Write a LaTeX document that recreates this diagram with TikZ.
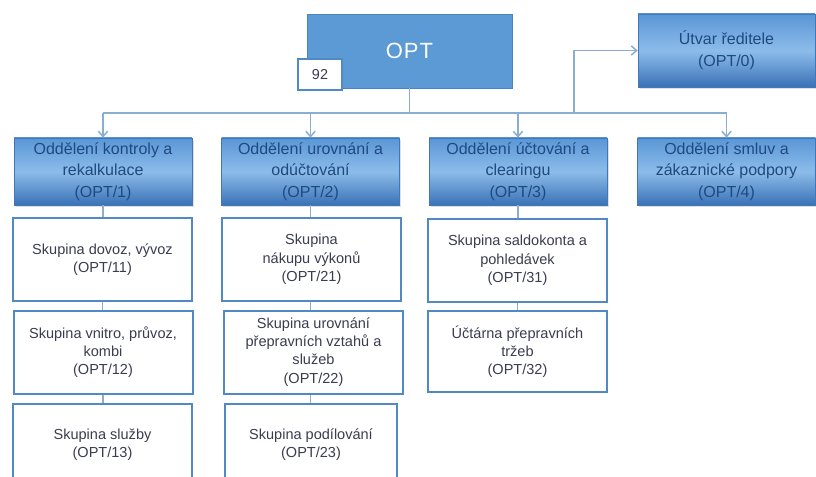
\documentclass[tikz,border=0pt]{standalone}
\usepackage{fontspec}
\setmainfont{Liberation Sans}
\usetikzlibrary{arrows.meta,shadows}
\definecolor{linec}{HTML}{8AAED0}
\definecolor{optfill}{HTML}{5B9AD5}
\definecolor{optedge}{HTML}{4A84BE}
\definecolor{dtop}{HTML}{5A96D6}
\definecolor{dmid}{HTML}{8CBCEA}
\definecolor{dbot}{HTML}{3A72B6}
\definecolor{dedge}{HTML}{3E78B8}
\definecolor{dtext}{HTML}{1F4A80}
\definecolor{gedge}{HTML}{5089C3}
\definecolor{gtext}{HTML}{3A3C50}
\tikzset{
  conn/.style={draw=linec, line width=1.1pt},
  arr/.style={conn, -{Straight Barb[length=4pt,width=7pt]}},
  deptbox/.style={draw=dedge, line width=0.5pt, top color=dtop, bottom color=dbot, middle color=dmid,
    minimum width=133.5pt, minimum height=50.25pt, inner sep=0pt, align=center, text=dtext,
    font=\fontsize{12}{16.3}\selectfont,
    drop shadow={opacity=0.25, shadow xshift=1.2pt, shadow yshift=-1.2pt}},
  grpbox/.style={draw=gedge, line width=1.5pt, fill=white, minimum width=134.25pt, minimum height=62.25pt,
    inner sep=0pt, align=center, text=gtext, font=\fontsize{10.9}{13.7}\selectfont},
}
\begin{document}
\begin{tikzpicture}[x=0.75pt,y=-0.75pt]
\useasboundingbox (0,0) rectangle (816,477);
\clip (0,0) rectangle (816,477);
\fill[white] (0,0) rectangle (816,477);
% top
\node[draw=optedge, line width=0.5pt, fill=optfill, minimum width=153.75pt, minimum height=55.5pt, inner sep=0pt,
  text=white, font=\fontsize{16.5}{18}\selectfont,
  drop shadow={opacity=0.2, shadow xshift=1pt, shadow yshift=-1pt}] (opt) at (409.5,51) {O\kern0.8pt P\kern0.8pt T};
\node[draw=gedge, line width=1pt, fill=white, minimum width=33pt, minimum height=23.25pt, inner sep=0pt,
  text=gtext, font=\fontsize{10.8}{12}\selectfont] (num) at (320,74.5) {92};
\node[deptbox, minimum width=132.75pt, minimum height=54.75pt] (utvar) at (726.5,50.5) {Útvar ředitele\\(OPT/0)};
% departments
\node[deptbox] (d1) at (103,171.5) {Oddělení kontroly a\\rekalkulace\\(OPT/1)};
\node[deptbox] (d2) at (310.5,171.5) {Oddělení urovnání a\\odúčtování\\(OPT/2)};
\node[deptbox] (d3) at (518,171.5) {Oddělení účtování a\\clearingu\\(OPT/3)};
\node[deptbox] (d4) at (726.5,171.5) {Oddělení smluv a\\zákaznické podpory\\(OPT/4)};
% groups
\node[grpbox] (g11) at (102.5,259.5) {Skupina dovoz, vývoz\\(OPT/11)};
\node[grpbox] (g12) at (103,352) {Skupina vnitro, průvoz,\\kombi\\(OPT/12)};
\node[grpbox] (g13) at (102.5,445) {Skupina služby\\(OPT/13)};
\node[grpbox] (g21) at (311.5,259.5) {Skupina\\nákupu výkonů\\(OPT/21)};
\node[grpbox] (g22) at (313.5,352) {Skupina urovnání\\přepravních vztahů a\\služeb\\(OPT/22)};
\node[grpbox, minimum width=129pt] (g23) at (311,445) {Skupina podílování\\(OPT/23)};
\node[grpbox] (g31) at (517.5,260.5) {Skupina saldokonta a\\pohledávek\\(OPT/31)};
\node[grpbox, minimum height=60.75pt] (g32) at (517.5,351.5) {Účtárna přepravních\\tržeb\\(OPT/32)};
% connectors
\coordinate (bus) at (0,113);
\coordinate (brk) at (574,113);
\draw[conn] (opt.south) -- (opt.south |- bus);
\draw[conn] (d1.north |- bus) -- (d4.north |- bus);
\draw[arr] (d1.north |- bus) -- (d1.north);
\draw[arr] (d2.north |- bus) -- (d2.north);
\draw[arr] (d3.north |- bus) -- (d3.north);
\draw[arr] (d4.north |- bus) -- (d4.north);
\draw[arr] (brk) |- (utvar.west);
\draw[conn] (d1.south) -- (d1.south |- g11.north);
\draw[conn] (g11.south) -- (g11.south |- g12.north);
\draw[conn] (g12.south) -- (g12.south |- g13.north);
\draw[conn] (d2.south) -- (d2.south |- g21.north);
\draw[conn] (d2.south |- g21.south) -- (d2.south |- g22.north);
\draw[conn] (d2.south |- g22.south) -- (d2.south |- g23.north);
\draw[conn] (d3.south) -- (d3.south |- g31.north);
\draw[conn] (g31.south) -- (g31.south |- g32.north);
\end{tikzpicture}
\end{document}
